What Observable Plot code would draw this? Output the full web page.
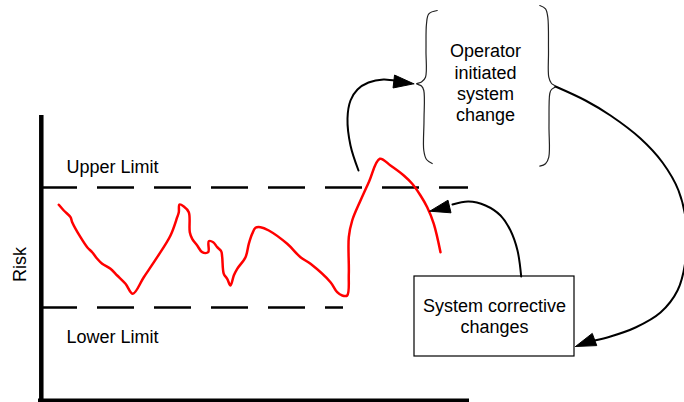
<!DOCTYPE html>
<html>
<head>
<meta charset="utf-8">
<script src="https://cdn.jsdelivr.net/npm/d3@7"></script>
<script src="https://cdn.jsdelivr.net/npm/@observablehq/plot@0.6"></script>
<style>
  html, body { margin: 0; padding: 0; background: white; overflow: hidden; }
</style>
</head>
<body>
<div id="chart"></div>
<script>
// Red risk trace: time (t) and risk level (r)
const riskTime = [18.3,23.3,30,31.7,40,46.7,51.7,56.7,61.7,70,76.7,85,92.3,103.3,116.7,130,136.7,138.3,139,143.3,148.3,149.3,151.7,156.7,161.7,167.7,168.3,172.7,176.7,180.7,181.7,183.3,186.7,190,193.3,196.7,205,208.3,211.7,215,220,228.3,246.7,260,270,290,296.7,301.7,306.7,308.3,308.3,311.7,320,328.3,339.3,350,363.3,371.7,380,386.7,393.3,400];
const riskLevel = [195.7,190,183.3,178.3,163.3,153.3,148.3,141.7,136.7,131.7,125,116.7,106.7,123.3,143.3,165,183.3,188.3,196,194,188.3,168.3,161.7,155,148.3,148.3,159.3,158.3,153.3,149.3,143.3,126.7,121.7,115,125,131.7,143.3,156.7,166.7,172.7,173.3,170,156.7,143.3,136.7,118.3,108.3,105,105,126.7,163.3,180,200,218.3,241.7,235,225,216.7,205,193.3,176.7,148.3];

// Limits
const limitNames = ["Upper Limit", "Lower Limit"];
const limitValues = [213, 93];
const limitEnds = [428, 303];
const limitLabelRisk = [233, 63];

// Annotation labels
const operatorLabel = "Operator\ninitiated\nsystem\nchange";
const boxLabel = "System corrective\nchanges";
const axisLabel = "Risk";

// Annotation paths (same data units)
const arrow1T = [318,310,307,310,317,328,343,356];
const arrow1R = [230,255,282,300,311,318,321,319.5];
const arrow1Tip = [373.3,316.7], arrow1Base = [353.3,319];
const arrow2T = [480.7,477,470,460,445,428,412];
const arrow2R = [124,150,170,185,195,199,196];
const arrow2Tip = [389.3,189.3], arrow2Base = [409,194];
const arrow3T = [515,545,570,600,622,638,646,645,637,620,595,570,554];
const arrow3R = [314,300,285,262,238,210,175,140,110,88,73,64,60];
const arrow3Tip = [535,54], arrow3Base = [554,61];
const braceLT = [396.7,388.3,386,385.5,385,381,376,381,383.3,383.5,383.3,386,391.7];
const braceLR = [390,386.7,376.7,350,323.3,318.5,316.7,314.5,310,280,250,241,237];
const braceRT = [499.3,505,507.3,508,508.3,511,515,511,509.3,508.5,508.3,505,499.3];
const braceRR = [395,391.7,383.3,350,323.3,317,314,311,307,275,243.3,236.7,234.3];
const boxT = [374, 534], boxR = [44, 124];

const zip = (ts, rs) => ts.map((t, i) => ({t, r: rs[i]}));
const risk = zip(riskTime, riskLevel);
const limits = limitNames.map((name, i) => ({name, risk: limitValues[i], end: limitEnds[i], labelRisk: limitLabelRisk[i]}));

function head(tip, base, hw) {
  const dx = tip[0] - base[0], dy = tip[1] - base[1];
  const L = Math.hypot(dx, dy);
  const nx = -dy / L, ny = dx / L;
  return [
    {t: tip[0], r: tip[1]},
    {t: base[0] + nx * hw, r: base[1] + ny * hw},
    {t: base[0] - nx * hw, r: base[1] - ny * hw},
    {t: tip[0], r: tip[1]}
  ];
}

const font = "'Liberation Sans', Arial, sans-serif";

const chart = Plot.plot({
  width: 684,
  height: 402,
  margin: 0,
  x: {domain: [-40, 644], axis: null},
  y: {domain: [-2, 400], axis: null},
  style: {fontFamily: font, fontSize: "18px", background: "white", color: "black"},
  marks: [
    // axes
    Plot.ruleX([0.8], {y1: -2, y2: 285, stroke: "black", strokeWidth: 4.5}),
    Plot.ruleY([0], {x1: -2, x2: 429, stroke: "black", strokeWidth: 4}),
    // limits
    Plot.ruleY(limits, {y: "risk", x1: 0, x2: "end", stroke: "black", strokeWidth: 2.5, strokeDasharray: "37,20"}),
    Plot.text(limits, {x: 26, y: "labelRisk", text: "name", textAnchor: "start", fontSize: 18, fontFamily: font, fill: "black"}),
    Plot.text([axisLabel], {x: -20, y: 136, text: d => d, rotate: -90, fontSize: 18, fontFamily: font, fill: "black"}),
    // risk trace
    Plot.line(risk, {x: "t", y: "r", stroke: "#ff0000", strokeWidth: 2.5, curve: "catmull-rom", strokeLinejoin: "round", strokeLinecap: "round"}),
    // braces
    Plot.line(zip(braceLT, braceLR), {x: "t", y: "r", stroke: "#222", strokeWidth: 1.2, curve: "catmull-rom"}),
    Plot.line(zip(braceRT, braceRR), {x: "t", y: "r", stroke: "#222", strokeWidth: 1.2, curve: "catmull-rom"}),
    Plot.text([operatorLabel], {x: 445, y: 318, text: d => d, lineHeight: 1.19, fontSize: 18, fontFamily: font, fill: "black"}),
    // box
    Plot.rect([{}], {x1: boxT[0], x2: boxT[1], y1: boxR[0], y2: boxR[1], fill: "white", stroke: "black", strokeWidth: 1.2}),
    Plot.text([boxLabel], {x: 454, y: 85, text: d => d, lineHeight: 1.17, fontSize: 18, fontFamily: font, fill: "black"}),
    // arrows
    Plot.line(zip(arrow1T, arrow1R), {x: "t", y: "r", stroke: "black", strokeWidth: 2, curve: "catmull-rom"}),
    Plot.line(head(arrow1Tip, arrow1Base, 6.5), {x: "t", y: "r", fill: "black", stroke: "black", strokeWidth: 1}),
    Plot.line(zip(arrow2T, arrow2R), {x: "t", y: "r", stroke: "black", strokeWidth: 2, curve: "catmull-rom"}),
    Plot.line(head(arrow2Tip, arrow2Base, 6.5), {x: "t", y: "r", fill: "black", stroke: "black", strokeWidth: 1}),
    Plot.line(zip(arrow3T, arrow3R), {x: "t", y: "r", stroke: "black", strokeWidth: 2, curve: "catmull-rom"}),
    Plot.line(head(arrow3Tip, arrow3Base, 6.5), {x: "t", y: "r", fill: "black", stroke: "black", strokeWidth: 1})
  ]
});
document.getElementById("chart").appendChild(chart);
</script>
</body>
</html>
